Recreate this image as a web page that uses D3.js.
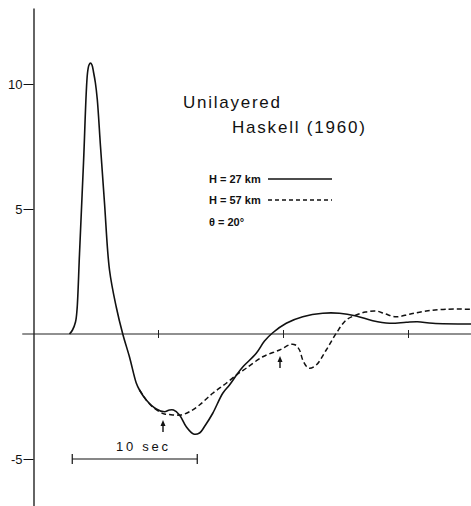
<!DOCTYPE html>
<html><head><meta charset="utf-8">
<script src="https://cdn.jsdelivr.net/npm/d3@7"></script>
<style>
html,body{margin:0;padding:0;background:#fff;}
svg{display:block;}
text{font-family:"Liberation Sans",Arial,sans-serif;fill:#111;}
</style></head>
<body>
<script>
// ---- data (time in s, amplitude) ----
const solidT = [2.88,3.12,3.36,3.48,3.68,4.0,4.32,4.44,4.56,4.68,4.8,4.95,5.1,5.36,5.68,6.08,6.62,7.14,7.68,8.22,8.48,9.02,9.82,10.48,10.88,11.2,11.68,12.22,12.8,13.28,13.76,14.34,15.14,15.68,16.34,16.74,17.82,18.48,19.14,20.22,21.54,23.14,24.48,25.82,27.14,28.48,29.82,30.72,31.94,35.0];
const solidV = [0,0.16,0.48,0.96,3.2,6.84,10.44,10.76,10.84,10.76,10.48,10.05,9.4,7.5,5.24,2.56,1.08,0,-0.92,-1.96,-2.24,-2.64,-3.0,-3.11,-3.04,-3.04,-3.24,-3.71,-4.0,-3.96,-3.64,-3.17,-2.37,-2.04,-1.57,-1.32,-0.77,-0.28,0.05,0.43,0.69,0.83,0.83,0.72,0.53,0.43,0.47,0.49,0.43,0.4];
const dashT = [8.48,9.02,9.44,10.08,10.48,10.88,11.36,11.82,12.48,13.28,14.34,15.42,16.34,17.02,18.34,19.68,20.62,20.96,21.28,21.54,21.84,22.08,22.62,23.42,24.22,25.02,25.82,26.56,27.42,28.16,29.02,30.08,31.42,33.02,35.0];
const dashV = [-2.24,-2.64,-2.88,-3.11,-3.2,-3.22,-3.24,-3.24,-3.11,-2.84,-2.37,-1.97,-1.6,-1.37,-0.91,-0.64,-0.41,-0.44,-0.64,-1.04,-1.3,-1.37,-1.24,-0.64,0.03,0.56,0.76,0.88,0.92,0.8,0.69,0.79,0.92,0.99,0.99];
const yTicks = [-5,5,10];
const xTicks = [10,20,30];
const arrowsT = [10.36,19.72];
const arrowsV = [-3.92,-1.36];
const scaleBarT = [3.1,13.1];
const legendLabels = ["H = 27 km","H = 57 km","θ = 20°"];
const titleLines = ["Unilayered","Haskell (1960)"];

const W=471,H=506;
const svg=d3.select("body").append("svg").attr("width",W).attr("height",H);
const x=d3.scaleLinear().domain([0,35]).range([33.5,471]);
const y=d3.scaleLinear().domain([-6.88,13.04]).range([506,8]);

// y axis
const yAxis=d3.axisLeft(y).tickValues(yTicks).tickSizeInner(10).tickSizeOuter(0).tickPadding(1).tickFormat(d=>String(d));
const ga=svg.append("g").attr("transform",`translate(${x(0)},0)`).call(yAxis);
ga.select(".domain").attr("stroke","#111").attr("stroke-width",1.3);
ga.selectAll(".tick line").attr("stroke","#111").attr("stroke-width",1);
ga.selectAll(".tick text").attr("font-size",13).attr("font-family","Liberation Sans, Arial, sans-serif").attr("fill","#111");

// zero line with ticks
svg.append("line").attr("x1",x(-0.9)).attr("x2",W).attr("y1",y(0)).attr("y2",y(0)).attr("stroke","#222").attr("stroke-width",1.2);
svg.selectAll(".xt").data(xTicks).enter().append("line")
  .attr("x1",d=>x(d)).attr("x2",d=>x(d)).attr("y1",y(0)-4).attr("y2",y(0)+4)
  .attr("stroke","#222").attr("stroke-width",1);

// curves
const line=d3.line().x(d=>x(d[0])).y(d=>y(d[1])).curve(d3.curveCatmullRom.alpha(0.5));
svg.append("path").datum(dashT.map((t,i)=>[t,dashV[i]])).attr("d",line)
  .attr("fill","none").attr("stroke","#111").attr("stroke-width",1.5).attr("stroke-dasharray","5,3");
svg.append("path").datum(solidT.map((t,i)=>[t,solidV[i]])).attr("d",line)
  .attr("fill","none").attr("stroke","#111").attr("stroke-width",1.6);

// arrows
arrowsT.forEach((t,i)=>{
  const ax=x(t), y0=y(arrowsV[i]), y1=y0-12;
  svg.append("line").attr("x1",ax).attr("x2",ax).attr("y1",y0).attr("y2",y1+4).attr("stroke","#111").attr("stroke-width",1.4);
  svg.append("path").attr("d",`M${ax},${y1} L${ax-2.5},${y1+6} L${ax+2.5},${y1+6} Z`).attr("fill","#111");
});

// scale bar
const sb=svg.append("g");
const sy=y(-5);
sb.append("line").attr("x1",x(scaleBarT[0])).attr("x2",x(scaleBarT[1])).attr("y1",sy).attr("y2",sy).attr("stroke","#111").attr("stroke-width",1.2);
scaleBarT.forEach(t=>sb.append("line").attr("x1",x(t)).attr("x2",x(t)).attr("y1",sy-5).attr("y2",sy+5).attr("stroke","#111").attr("stroke-width",1.2));
sb.append("text").attr("x",116).attr("y",451).attr("font-size",13).attr("textLength",52).attr("lengthAdjust","spacing").text("10 sec");

// title
svg.append("text").attr("x",183).attr("y",108).attr("font-size",17).attr("textLength",97).attr("lengthAdjust","spacing").text(titleLines[0]);
svg.append("text").attr("x",232).attr("y",133).attr("font-size",17).attr("textLength",133).attr("lengthAdjust","spacing").text(titleLines[1]);

// legend
const lb=[183,204,226];
legendLabels.forEach((s,i)=>{
  svg.append("text").attr("x",209).attr("y",lb[i]).attr("font-size",11).attr("font-weight","bold").text(s);
});
svg.append("line").attr("x1",268).attr("x2",332).attr("y1",179).attr("y2",179).attr("stroke","#111").attr("stroke-width",1.3);
svg.append("line").attr("x1",268).attr("x2",332).attr("y1",200).attr("y2",200).attr("stroke","#111").attr("stroke-width",1.3).attr("stroke-dasharray","4,3");
</script>
</body></html>
